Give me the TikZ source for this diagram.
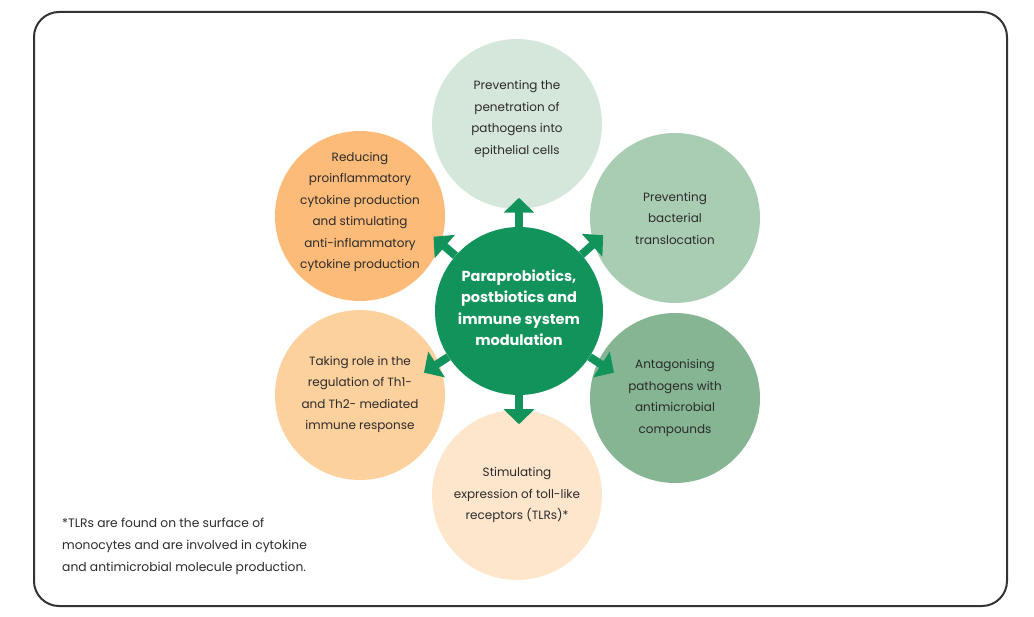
\documentclass[tikz,border=0pt]{standalone}
\usepackage{fontspec}
\setmainfont{Poppins}
\usetikzlibrary{arrows.meta,calc}

\definecolor{hubgreen}{HTML}{12935B}
\definecolor{mintpale}{HTML}{D5E6DA}
\definecolor{mintmid}{HTML}{A9CDB3}
\definecolor{mintdark}{HTML}{85B592}
\definecolor{peachpale}{HTML}{FDE6CC}
\definecolor{peachmid}{HTML}{FDD19E}
\definecolor{peachdark}{HTML}{FCBB78}
\definecolor{inkgray}{HTML}{2B2B2B}
\definecolor{framegray}{HTML}{333333}

\begin{document}
\begin{tikzpicture}[x=1pt,y=-1pt,
	petal/.style={circle, minimum size=170pt, inner sep=-30pt, align=center,
		text=inkgray, font=\fontsize{12}{21.5}\selectfont},
	spoke/.style={-{Triangle[length=15pt,width=30pt]}, line width=8pt, hubgreen}]
	\useasboundingbox (0,0) rectangle (1034,617);
	\draw[framegray, line width=2pt, rounded corners=25pt] (34,12) rectangle (1007,606);
	% outer circles
	\node[petal, fill=mintpale] (penetration) at (517,124)
		{Preventing the\\penetration of\\pathogens into\\epithelial cells\\[-8pt]};
	\node[petal, fill=mintmid] (translocation) at (675,218)
		{Preventing\\bacterial\\translocation};
	\node[petal, fill=mintdark] (antagonising) at (675,398)
		{Antagonising\\pathogens with\\antimicrobial\\compounds};
	\node[petal, fill=peachpale] (tlr) at (517,495)
		{Stimulating\\expression of toll-like\\receptors (TLRs)*};
	\node[petal, fill=peachmid] (thcells) at (360,395)
		{Taking role in the\\regulation of Th1-\\and Th2- mediated\\immune response\\[-17pt]};
	\node[petal, fill=peachdark] (cytokine) at (360,216)
		{Reducing\\proinflammatory\\cytokine production\\and stimulating\\anti-inflammatory\\cytokine production\\[-10pt]};
	% hub
	\node[circle, fill=hubgreen, minimum size=168pt, inner sep=-30pt, align=center,
		text=white, font=\fontsize{14.5}{21.5}\selectfont\bfseries] (hub) at (519,311)
		{Paraprobiotics,\\postbiotics and\\immune system\\modulation\\[-15pt]};
	% arrows
	\foreach \a in {90,42,-33,-90,213,139}
		\draw[spoke] (hub.\a) -- ($(hub.center)!1.345!(hub.\a)$);
	% footnote
	\node[anchor=north west, align=left, inner sep=0pt, text=inkgray,
		font=\fontsize{12.3}{22}\selectfont] (note) at (62,518)
		{*TLRs are found on the surface of\\monocytes and are involved in cytokine\\and antimicrobial molecule production.};
\end{tikzpicture}
\end{document}
